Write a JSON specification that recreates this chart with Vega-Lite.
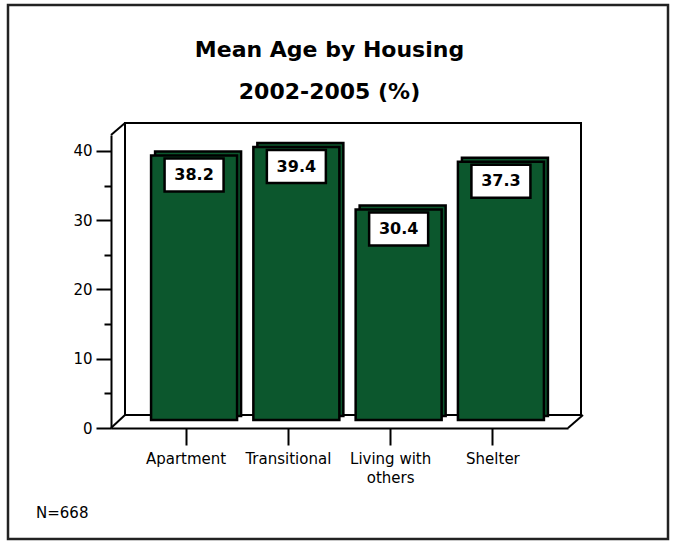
{
  "$schema": "https://vega.github.io/schema/vega-lite/v6.json",
  "width": 457,
  "height": 293,
  "autosize": {"type": "none"},
  "padding": {"left": 111, "top": 135, "right": 105, "bottom": 116},
  "background": "white",
  "config": {"view": {"stroke": null}, "font": "DejaVu Sans"},
  "data": {
    "values": [
      {"housing": "Apartment", "age": 38.2},
      {"housing": "Transitional", "age": 39.4},
      {"housing": "Living with others", "age": 30.4},
      {"housing": "Shelter", "age": 37.3}
    ]
  },
  "layer": [
    {
      "data": {"values": [{}]},
      "layer": [
        {
          "mark": {"type": "rect", "filled": false, "stroke": "#222222", "strokeWidth": 2.5,
                   "xOffset": -103, "x2Offset": 100, "yOffset": -130, "y2Offset": 111},
          "encoding": {
            "x": {"datum": 0, "type": "quantitative", "scale": {"domain": [0, 1], "nice": false, "zero": false}, "axis": null},
            "x2": {"datum": 1},
            "y": {"datum": 42.3, "type": "quantitative", "scale": {"domain": [0, 42.3], "nice": false}, "axis": null},
            "y2": {"datum": 0}
          }
        },
        {
          "mark": {"type": "rect", "filled": false, "stroke": "black", "strokeWidth": 2,
                   "xOffset": 14, "x2Offset": 13, "yOffset": -12, "y2Offset": -13},
          "encoding": {
            "x": {"datum": 0, "type": "quantitative", "axis": null},
            "x2": {"datum": 1},
            "y": {"datum": 42.3, "type": "quantitative", "axis": null},
            "y2": {"datum": 0}
          }
        },
        {
          "mark": {"type": "rule", "color": "black", "strokeWidth": 2, "x2Offset": 14, "y2Offset": -12},
          "encoding": {
            "x": {"datum": 0, "type": "quantitative", "axis": null},
            "x2": {"datum": 0},
            "y": {"datum": 42.3, "type": "quantitative", "axis": null},
            "y2": {"datum": 42.3}
          }
        },
        {
          "mark": {"type": "rule", "color": "black", "strokeWidth": 2, "x2Offset": 14, "y2Offset": -13},
          "encoding": {
            "x": {"datum": 0, "type": "quantitative", "axis": null},
            "x2": {"datum": 0},
            "y": {"datum": 0, "type": "quantitative", "axis": null},
            "y2": {"datum": 0}
          }
        },
        {
          "mark": {"type": "rule", "color": "black", "strokeWidth": 2, "x2Offset": 15, "y2Offset": -13},
          "encoding": {
            "x": {"datum": 1, "type": "quantitative", "axis": null},
            "x2": {"datum": 1},
            "y": {"datum": 0, "type": "quantitative", "axis": null},
            "y2": {"datum": 0}
          }
        },
        {
          "mark": {"type": "text", "text": "Mean Age by Housing", "align": "center", "baseline": "alphabetic",
                   "fontSize": 22, "fontWeight": "bold", "font": "DejaVu Sans", "color": "black",
                   "xOffset": -10, "yOffset": -78},
          "encoding": {
            "x": {"datum": 0.5, "type": "quantitative", "axis": null},
            "y": {"datum": 42.3, "type": "quantitative", "axis": null}
          }
        },
        {
          "mark": {"type": "text", "text": "2002-2005 (%)", "align": "center", "baseline": "alphabetic",
                   "fontSize": 22, "fontWeight": "bold", "font": "DejaVu Sans", "color": "black",
                   "xOffset": -10, "yOffset": -36},
          "encoding": {
            "x": {"datum": 0.5, "type": "quantitative", "axis": null},
            "y": {"datum": 42.3, "type": "quantitative", "axis": null}
          }
        },
        {
          "mark": {"type": "text", "text": "N=668", "align": "left", "baseline": "middle",
                   "fontSize": 15, "font": "DejaVu Sans", "color": "black", "xOffset": -75, "yOffset": 85},
          "encoding": {
            "x": {"datum": 0, "type": "quantitative", "axis": null},
            "y": {"datum": 0, "type": "quantitative", "axis": null}
          }
        }
      ]
    },
    {
      "encoding": {
        "x": {
          "field": "housing",
          "type": "nominal",
          "sort": null,
          "scale": {"paddingInner": 0.15, "paddingOuter": 0.309},
          "axis": {
            "title": null,
            "labelAngle": 0,
            "tickSize": 17,
            "tickWidth": 2,
            "tickColor": "black",
            "domainColor": "black",
            "domainWidth": 2,
            "labelFont": "DejaVu Sans",
            "labelFontSize": 15,
            "labelColor": "black",
            "labelPadding": 6,
            "labelLineHeight": 19,
            "labelExpr": "datum.label == 'Living with others' ? ['Living with', 'others'] : datum.label"
          }
        },
        "y": {
          "field": "age",
          "type": "quantitative",
          "scale": {"domain": [0, 42.3], "nice": false},
          "axis": {
            "title": null,
            "grid": false,
            "values": [0, 5, 10, 15, 20, 25, 30, 35, 40],
            "labelExpr": "datum.value % 10 === 0 ? datum.label : ''",
            "tickSize": {"condition": {"test": "datum.value % 10 !== 0", "value": 7}, "value": 15},
            "tickWidth": 2,
            "tickColor": "black",
            "domainColor": "black",
            "domainWidth": 2,
            "labelFont": "DejaVu Sans",
            "labelFontSize": 15,
            "labelColor": "black",
            "labelPadding": 4
          }
        }
      },
      "layer": [
        {
          "mark": {"type": "bar", "width": 86, "xOffset": 12, "yOffset": -12, "y2Offset": -12,
                   "fill": "#0c572d", "stroke": "black", "strokeWidth": 2.5},
          "encoding": {"y2": {"datum": 0}}
        },
        {
          "mark": {"type": "bar", "width": 86, "xOffset": 8, "yOffset": -8, "y2Offset": -8,
                   "fill": "#0c572d", "stroke": "black", "strokeWidth": 2.5},
          "encoding": {"y2": {"datum": 0}}
        },
        {
          "mark": {"type": "bar", "width": 59, "xOffset": 8, "yOffset": -5, "y2Offset": 28,
                   "fill": "white", "stroke": "black", "strokeWidth": 2.5},
          "encoding": {"y2": {"field": "age"}}
        },
        {
          "mark": {"type": "text", "xOffset": 8, "yOffset": 11.5, "baseline": "middle", "align": "center",
                   "font": "DejaVu Sans", "fontSize": 16, "fontWeight": "bold", "color": "black"},
          "encoding": {"text": {"field": "age", "type": "quantitative", "format": ".1f"}}
        }
      ]
    }
  ],
  "resolve": {"scale": {"x": "independent", "y": "independent"}}
}
